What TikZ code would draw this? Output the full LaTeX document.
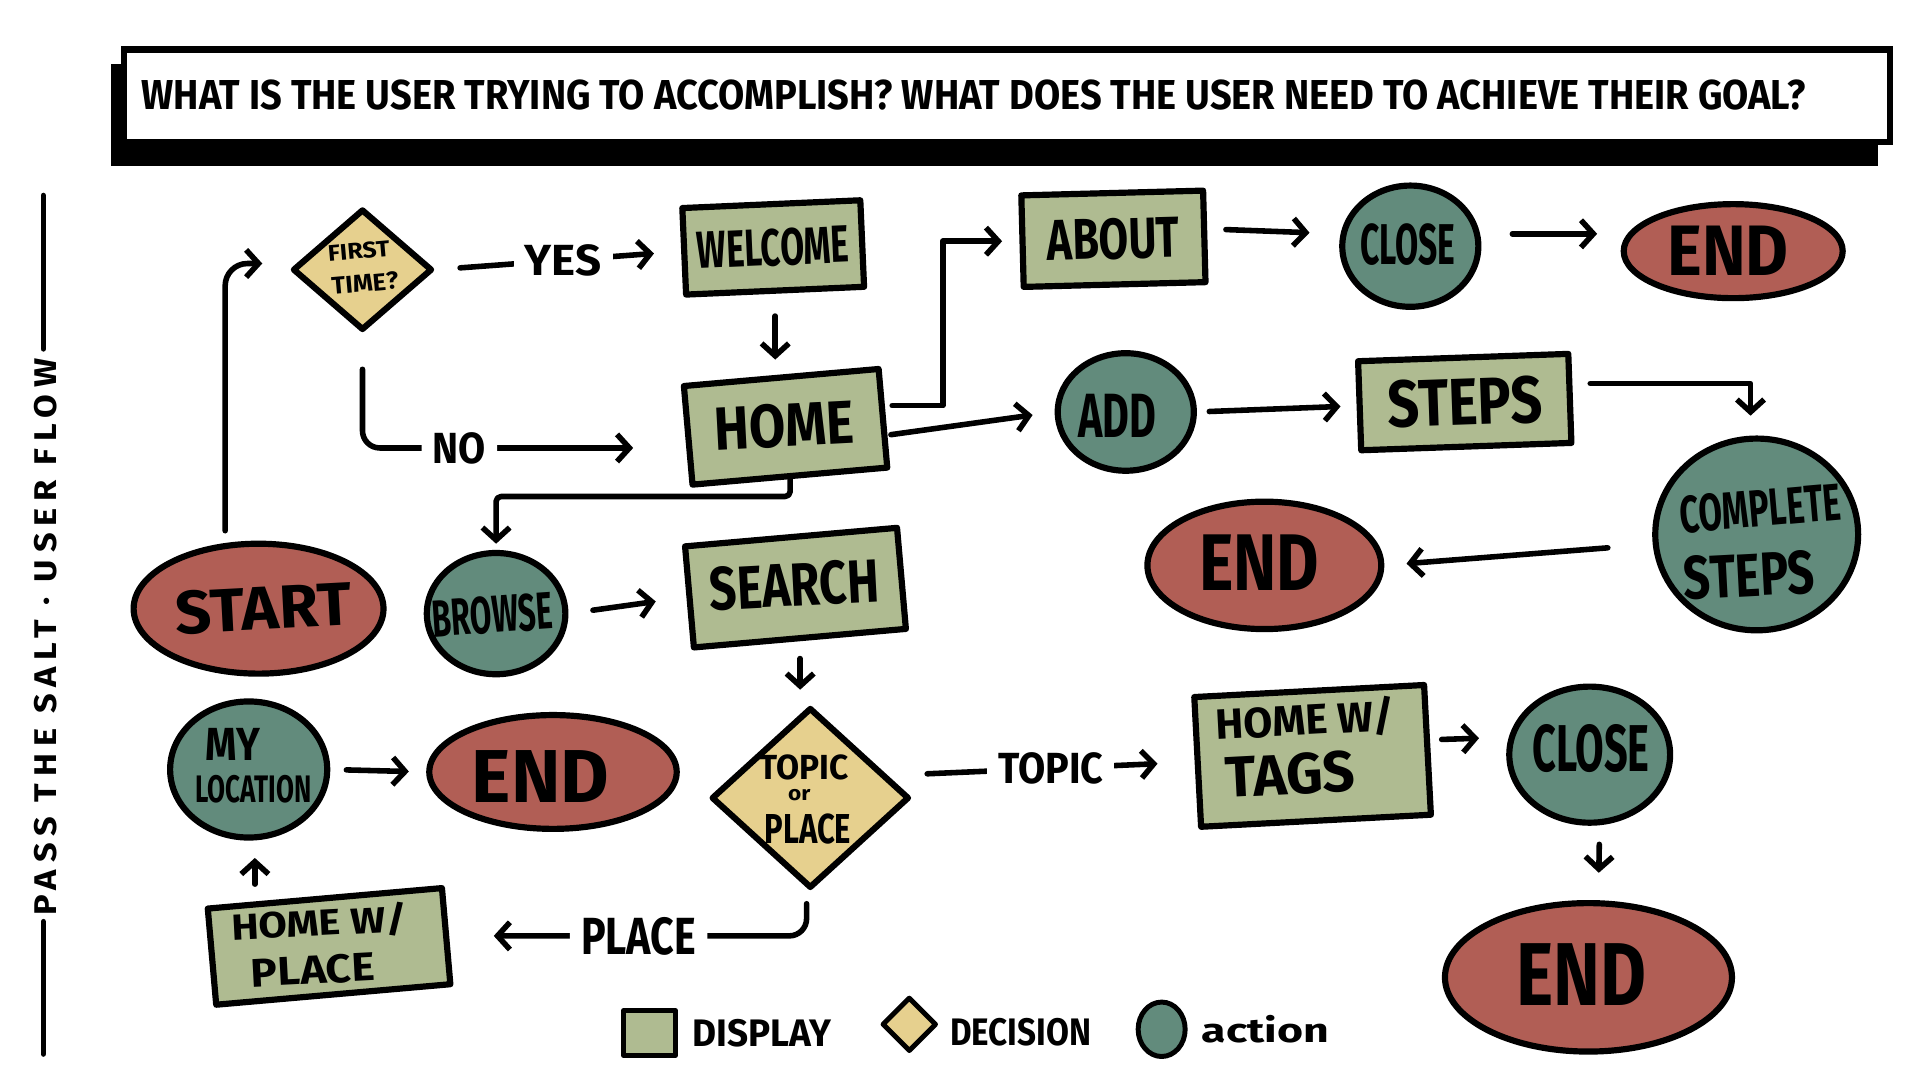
\documentclass[tikz,border=0pt]{standalone}
\usepackage{fontspec}
\setmainfont{Fira Sans}
\usetikzlibrary{shapes.geometric,arrows.meta,calc}
\definecolor{cRed}{RGB}{177,94,85}
\definecolor{cDisp}{RGB}{175,187,145}
\definecolor{cAct}{RGB}{98,139,124}
\definecolor{cDec}{RGB}{230,208,142}
\newcommand\hfit[3]{\resizebox{#1pt}{#2pt}{\bfseries #3}}
\begin{document}
\begin{tikzpicture}[x=1pt,y=-1pt,
  shp/.style={draw=black, line width=5pt, inner sep=0pt, line join=round},
  disp/.style={shp, fill=cDisp, rectangle},
  act/.style={shp, fill=cAct, ellipse},
  term/.style={shp, fill=cRed, ellipse},
  dec/.style={shp, fill=cDec, diamond},
  txt/.style={inner sep=0pt},
  arr/.style={line width=4.5pt, line cap=round, line join=round, -{Straight Barb[length=10pt,width=22pt]}},
  lbl/.style={fill=white, inner sep=9pt},
  rule/.style={line width=4.5pt, line cap=round}]
\useasboundingbox (0,0) rectangle (1552,873);

% header
\fill[black] (90,52) rectangle (1518,134);
\draw[line width=5pt, fill=white] (100,40) rectangle (1528,115);
\node[txt] (hdr) at (787,77) {\hfit{1345}{24}{WHAT IS THE USER TRYING TO ACCOMPLISH? WHAT DOES THE USER NEED TO ACHIEVE THEIR GOAL?}};

% side title
\node[txt, rotate=90] (side) at (37,515) {\hfit{450}{18}{\addfontfeature{LetterSpace=20}PASS THE SALT · USER FLOW}};
\draw[rule] (35,158) -- (35,282);
\draw[rule] (35,745) -- (35,852);

% nodes
\node[dec, minimum width=113pt, minimum height=98pt] (ft) at (293,218) {};
\node[txt, rotate=5] (ftA) at (290,203) {\hfit{50}{13}{FIRST}};
\node[txt, rotate=5] (ftB) at (295,229) {\hfit{54}{14}{TIME?}};

\node[disp, minimum width=144pt, minimum height=70pt, rotate=2.5] (welcome) at (625,200) {\hfit{123}{30}{WELCOME}};
\node[disp, minimum width=158pt, minimum height=80pt, rotate=5] (home) at (635,345) {};
\node[txt, rotate=3] (homeT) at (634,344) {\hfit{113}{35}{HOME}};
\node[disp, minimum width=147pt, minimum height=74pt, rotate=1.5] (about) at (900,193) {\hfit{107}{33}{ABOUT}};

\node[act, minimum width=110pt, minimum height=98pt] (close1) at (1140,199) {};
\node[txt] (close1T) at (1138,198) {\hfit{77}{33}{CLOSE}};
\node[term, minimum width=177pt, minimum height=76pt] (end1) at (1401,203) {};
\node[txt] (end1T) at (1397,203) {\hfit{98}{40}{END}};

\node[act, minimum width=110pt, minimum height=95pt] (add) at (910,333) {};
\node[txt] (addT) at (903,336) {\hfit{63}{35}{ADD}};
\node[disp, minimum width=170pt, minimum height=72pt, rotate=2] (steps) at (1184,325) {\hfit{125}{38}{STEPS}};

\node[act, minimum width=164pt, minimum height=155pt] (complete) at (1420,432) {};
\node[txt, rotate=5] (completeA) at (1423,411) {\hfit{130}{30}{COMPLETE}};
\node[txt, rotate=3] (completeB) at (1414,465) {\hfit{106}{35}{STEPS}};
\node[term, minimum width=189pt, minimum height=103pt] (end2) at (1022,457) {};
\node[txt] (end2T) at (1018,455) {\hfit{97}{45}{END}};

\node[term, minimum width=202pt, minimum height=105pt] (start) at (209,492) {};
\node[txt, rotate=3] (startT) at (213,492) {\hfit{142}{35}{START}};
\node[act, minimum width=112pt, minimum height=98pt] (browse) at (401,496) {};
\node[txt, rotate=4] (browseT) at (398,497) {\hfit{97}{30}{BROWSE}};
\node[disp, minimum width=172pt, minimum height=82pt, rotate=5] (search) at (643,475) {};
\node[txt, rotate=3] (searchT) at (642,473) {\hfit{137}{35}{SEARCH}};

\node[dec, minimum width=160pt, minimum height=146pt] (topic) at (655,645) {};
\node[txt] (topicA) at (650,620) {\hfit{72}{20}{TOPIC}};
\node[txt] (topicB) at (646,643) {\hfit{18}{9}{or}};
\node[txt] (topicC) at (653,670) {\hfit{70}{24}{PLACE}};

\node[disp, minimum width=186pt, minimum height=105pt, rotate=3] (tags) at (1061,611) {};
\node[txt, rotate=3] (tagsA) at (1055,582) {\hfit{145}{28}{HOME W/}};
\node[txt, rotate=3] (tagsB) at (1043,626) {\hfit{105}{33}{TAGS}};
\node[act, minimum width=130pt, minimum height=110pt] (close2) at (1285,610) {};
\node[txt] (close2T) at (1286,605) {\hfit{95}{38}{CLOSE}};
\node[term, minimum width=232pt, minimum height=120pt] (end3) at (1284,790) {};
\node[txt] (end3T) at (1278,788) {\hfit{105}{50}{END}};

\node[act, minimum width=127pt, minimum height=110pt] (myloc) at (201,622) {};
\node[txt] (mylocA) at (188,602) {\hfit{44}{26}{MY}};
\node[txt] (mylocB) at (205,638) {\hfit{94}{22}{LOCATION}};
\node[term, minimum width=200pt, minimum height=92pt] (end4) at (447,624) {};
\node[txt] (end4T) at (437,628) {\hfit{111}{42}{END}};

\node[disp, minimum width=190pt, minimum height=78pt, rotate=5] (homeplace) at (266,765) {};
\node[txt, rotate=3] (homeplaceA) at (258,746) {\hfit{142}{24}{HOME W/}};
\node[txt, rotate=3] (homeplaceB) at (253,784) {\hfit{100}{23}{PLACE}};

% legend
\node[disp, line width=4pt, minimum width=42pt, minimum height=36pt] (lsq) at (525,835) {};
\node[txt] (lsqT) at (616,835) {\hfit{112}{22}{DISPLAY}};
\node[dec, line width=4pt, minimum width=44pt, minimum height=44pt] (ldi) at (735,828) {};
\node[txt] (ldiT) at (825,834) {\hfit{114}{22}{DECISION}};
\node[act, line width=4pt, minimum width=38pt, minimum height=44pt] (lci) at (939,832) {};
\node[txt] (lciT) at (1023,832) {\hfit{103}{22}{action}};

% connectors
\draw[arr, rounded corners=18pt, shorten >=22pt] ([xshift=-27pt,yshift=8pt]start.north) |- ([yshift=5pt]ft.west);
\draw[arr, shorten <=20pt, shorten >=22pt] (ft.east) -- node[lbl, pos=0.52]{\hfit{62}{25}{YES}} (welcome.west);
\draw[arr, shorten <=18pt, shorten >=12pt] (welcome.south) -- (welcome.south |- home.north);
\draw[arr, rounded corners=14pt, shorten >=42pt] ([yshift=-29pt]ft.south) |- node[lbl, pos=0.65]{\hfit{43}{25}{NO}} ([yshift=-10pt]home.west);
\draw[arr, shorten <=5pt, shorten >=14pt] ([yshift=10pt]home.east) -| ([xshift=-62pt]about.west) -- (about.west);
\draw[arr, shorten <=4pt, shorten >=18pt] ([yshift=-14pt]home.east) -- (add.west);
\draw[arr, shorten <=15pt, shorten >=24pt] ([yshift=6pt]about.east) -- ([yshift=10pt]close1.west);
\draw[arr, shorten <=25pt, shorten >=19pt] ([yshift=10pt]close1.east) -- ([yshift=14pt]end1.west);
\draw[arr, shorten <=10pt, shorten >=13pt] (add.east) -- (steps.west);
\draw[arr, shorten <=14pt, shorten >=16pt] ([yshift=12pt]steps.east) -| ([xshift=-5pt]complete.north);
\draw[arr, shorten <=36pt, shorten >=18pt] ([yshift=-8pt]complete.west) -- (end2.east);
\draw[arr, rounded corners=4pt, shorten >=5pt] (home.south) -- ++(0,14) -| (browse.north);
\draw[arr, shorten <=20pt, shorten >=25pt] (browse.east) -- (search.west);
\draw[arr, shorten <=14pt, shorten >=12pt] (search.south) -- (search.south |- topic.north);
\draw[arr, shorten <=12pt, shorten >=30pt] ([yshift=19pt]topic.east) -- node[lbl, pos=0.49]{\hfit{85}{25}{TOPIC}} (tags.west);
\draw[arr, shorten <=9pt, shorten >=22pt] ([yshift=8pt]tags.east) -- ([yshift=14pt]close2.west);
\draw[arr, shorten <=15pt, shorten >=22pt] ([xshift=8pt]close2.south) -- ([xshift=8pt]end3.north);
\draw[arr, rounded corners=14pt, shorten >=36pt] ([xshift=-3pt,yshift=-10pt]topic.south) |- node[lbl, pos=0.735]{\hfit{93}{30}{PLACE}} (homeplace.east);
\draw[arr, shorten <=9pt, shorten >=14pt] ([xshift=5pt]myloc.south |- homeplace.north) -- ([xshift=5pt]myloc.south);
\draw[arr, shorten <=13pt, shorten >=14pt] (myloc.east) -- (end4.west);
\end{tikzpicture}
\end{document}
